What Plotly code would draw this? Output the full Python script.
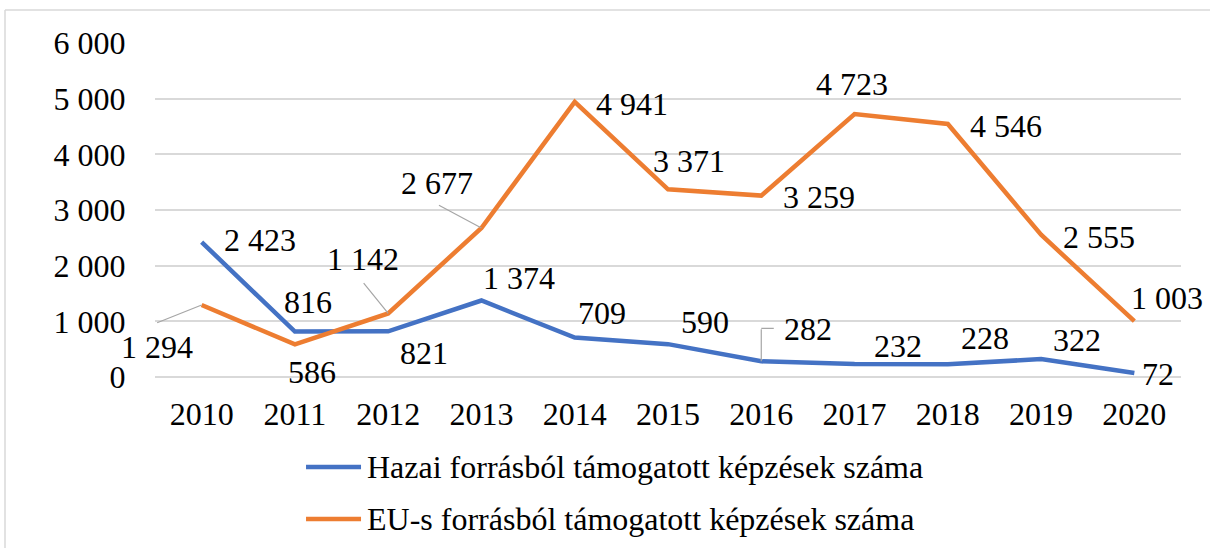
import plotly.graph_objects as go

years = ["2010", "2011", "2012", "2013", "2014", "2015", "2016", "2017", "2018", "2019", "2020"]
hazai = [2423, 816, 821, 1374, 709, 590, 282, 232, 228, 322, 72]
eu = [1294, 586, 1142, 2677, 4941, 3371, 3259, 4723, 4546, 2555, 1003]
name_hazai = "Hazai forrásból támogatott képzések száma"
name_eu = "EU-s forrásból támogatott képzések száma"
y_ticks = [0, 1000, 2000, 3000, 4000, 5000, 6000]

# label offsets (pixels) -- style only
hazai_off = [(58, 2), (13, 30), (36, -22), (38, 23), (27, 25), (37, 22),
             (47, 32), (43, 18), (37, 26), (36, 19), (24, -1)]
eu_off = [(-45, -42), (17, -28), (-25, 54), (-44, 45), (57, -2), (21, 28),
          (58, -1), (-3, 30), (58, -2), (58, -2), (33, 23)]
# leader lines: index -> (ax, ay)
eu_leaders = {0: (-45, 18), 2: (-25, -31), 3: (-43, -23)}

BLUE = "#4472C4"
ORANGE = "#ED7D31"
FONT = "Times New Roman, Liberation Serif, DejaVu Serif, serif"
FS = 32


def fmt(v):
    return f"{v:,}".replace(",", " ")


xi = list(range(len(years)))

fig = go.Figure()
fig.add_trace(go.Scatter(x=xi, y=hazai, mode="lines", name=name_hazai,
                         line=dict(color=BLUE, width=4.5), showlegend=False))
fig.add_trace(go.Scatter(x=xi, y=eu, mode="lines", name=name_eu,
                         line=dict(color=ORANGE, width=4.5), showlegend=False))

ann = []
for vals, offs in ((hazai, hazai_off), (eu, eu_off)):
    for x, v, (dx, dy) in zip(xi, vals, offs):
        ann.append(dict(x=x, y=v, xref="x", yref="y", text=fmt(v), showarrow=False,
                        xshift=dx, yshift=dy, font=dict(family=FONT, size=FS, color="black")))

for i, (ax, ay) in eu_leaders.items():
    ann.append(dict(x=xi[i], y=eu[i], xref="x", yref="y", text=" ", showarrow=True,
                    arrowhead=0, arrowwidth=1.2, arrowcolor="#A6A6A6", ax=ax, ay=ay,
                    font=dict(size=1), borderpad=0))
# elbow leader for hazai 2016
ann.append(dict(x=xi[6], y=hazai[6], xref="x", yref="y", text=" ", showarrow=True,
                arrowhead=0, arrowwidth=1.2, arrowcolor="#A6A6A6", ax=0, ay=-33,
                font=dict(size=1), borderpad=0))
ann.append(dict(x=xi[6], y=hazai[6], xref="x", yref="y", text=" ", showarrow=True,
                arrowhead=0, arrowwidth=1.2, arrowcolor="#A6A6A6", ax=13, ay=0, yshift=33,
                font=dict(size=1), borderpad=0))

# manual legend
leg = [(name_hazai, BLUE, -0.2695), (name_eu, ORANGE, -0.4251)]
shapes = []
for nm, col, yy in leg:
    shapes.append(dict(type="line", xref="paper", yref="paper", x0=0.1472, x1=0.2008,
                       y0=yy, y1=yy, line=dict(color=col, width=4.5)))
    ann.append(dict(x=0.2047, y=yy, xref="paper", yref="paper", text=nm, showarrow=False,
                    xanchor="left", yanchor="middle",
                    font=dict(family=FONT, size=FS, color="black")))

# chart border (top & left visible)
shapes.append(dict(type="line", xref="paper", yref="paper", x0=-0.1462, x1=-0.1462,
                   y0=1.0988, y1=-0.6, line=dict(color="#D9D9D9", width=1.5)))
shapes.append(dict(type="line", xref="paper", yref="paper", x0=-0.1462, x1=1.05,
                   y0=1.0988, y1=1.0988, line=dict(color="#D9D9D9", width=1.5)))

fig.update_layout(
    width=1210, height=548,
    margin=dict(l=155, r=29, t=43, b=171),
    paper_bgcolor="white", plot_bgcolor="white",
    annotations=ann, shapes=shapes,
    font=dict(family=FONT, size=FS, color="black"),
    showlegend=False,
)
fig.update_xaxes(range=[-0.5, len(years) - 0.5], tickvals=xi, ticktext=years,
                 showgrid=False, showline=False, zeroline=False,
                 ticks="outside", ticklen=9, tickcolor="rgba(0,0,0,0)",
                 tickfont=dict(family=FONT, size=FS, color="black"))
fig.update_yaxes(range=[0, 6000], tickvals=y_ticks, ticktext=[fmt(v) for v in y_ticks],
                 showgrid=True, gridcolor="#D9D9D9", gridwidth=1.5,
                 zeroline=True, zerolinecolor="#D9D9D9", zerolinewidth=1.5,
                 showline=False, ticks="outside", ticklen=22, tickcolor="rgba(0,0,0,0)",
                 tickfont=dict(family=FONT, size=FS, color="black"))

fig.write_html("out.html")
